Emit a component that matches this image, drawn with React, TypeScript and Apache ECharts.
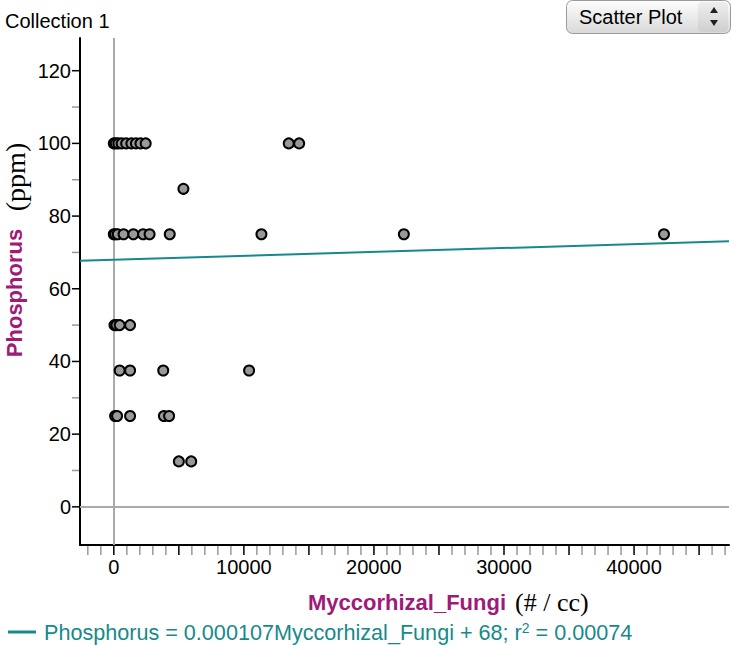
import React, { useEffect, useRef } from "react";
import * as echarts from "echarts";

// Data
const fungi100 = [0, 150, 350, 600, 950, 1350, 1700, 2050, 2450, 13450, 14250];
const fungi87 = [5350];
const fungi75 = [0, 100, 300, 750, 1500, 2250, 2750, 4300, 11350, 22300, 42300];
const fungi50 = [50, 200, 450, 1250];
const fungi37 = [450, 1250, 3800, 10400];
const fungi25 = [100, 250, 1250, 3850, 4250];
const fungi12 = [5000, 5950];
const phosphorusLevels = [100, 87.5, 75, 50, 37.5, 25, 12.5];

const slope = 0.000107;
const intercept = 68;

const xMin = -2600;
const xMax = 47300;
const yMin = -10.5;
const yMax = 129;

const xTickMinor = [-2000, -1000, 1000, 2000, 3000, 4000, 6000, 7000, 8000, 9000, 11000, 12000, 13000, 14000, 16000, 17000, 18000, 19000, 21000, 22000, 23000, 24000, 26000, 27000, 28000, 29000, 31000, 32000, 33000, 34000, 36000, 37000, 38000, 39000, 41000, 42000, 43000, 44000, 46000, 47000];
const xTickMajor = [0, 5000, 10000, 15000, 20000, 25000, 30000, 35000, 40000, 45000];
const yTickMinor = [10, 30, 50, 70, 90, 110];
const yTickMajor = [0, 20, 40, 60, 80, 100, 120];

const TEAL = "#17898b";
const MAGENTA = "#a01a78";
const SANS = "'Liberation Sans', Arial, sans-serif";
const SERIF = "'Liberation Serif', 'Times New Roman', serif";

export default function App() {
  const ref = useRef<HTMLDivElement>(null);
  useEffect(() => {
    if (!ref.current) return;
    const chart = echarts.init(ref.current, undefined, { renderer: "svg" });

    const rows = [fungi100, fungi87, fungi75, fungi50, fungi37, fungi25, fungi12];
    const points: number[][] = [];
    rows.forEach((row, i) => row.forEach((f) => points.push([f, phosphorusLevels[i]])));

    const xTicks = [
      ...xTickMinor.map((v) => [v, yMin, 0]),
      ...xTickMajor.map((v) => [v, yMin, 1]),
    ];
    const yTicks = [
      ...yTickMinor.map((v) => [xMin, v, 0]),
      ...yTickMajor.map((v) => [xMin, v, 1]),
    ];

    const option: any = {
      animation: false,
      grid: { left: 80, right: 0, top: 38, bottom: 100, containLabel: false },
      xAxis: {
        type: "value",
        min: xMin,
        max: xMax,
        splitNumber: 5,
        axisLine: { show: true, onZero: false, lineStyle: { color: "#000", width: 2 } },
        axisTick: { show: false },
        splitLine: { show: false },
        axisLabel: {
          margin: 12,
          fontSize: 20,
          fontFamily: SANS,
          color: "#000",
          formatter: (v: number) => (Math.abs(v % 10000) < 1e-6 ? String(Math.round(v)) : ""),
        },
      },
      yAxis: {
        type: "value",
        min: yMin,
        max: yMax,
        splitNumber: 7,
        axisLine: { show: true, onZero: false, lineStyle: { color: "#000", width: 2 } },
        axisTick: { show: false },
        splitLine: { show: false },
        axisLabel: {
          margin: 9,
          fontSize: 20,
          fontFamily: SANS,
          color: "#000",
          formatter: (v: number) => (Math.abs(v % 20) < 1e-6 ? String(Math.round(v)) : ""),
        },
      },
      series: [
        {
          type: "custom",
          silent: true,
          clip: false,
          data: xTicks,
          renderItem: (params: any, api: any) => {
            const p = api.coord([api.value(0), api.value(1)]);
            const major = api.value(2) === 1;
            return {
              type: "line",
              shape: { x1: p[0], y1: p[1] + 1, x2: p[0], y2: p[1] + 10 },
              style: { stroke: major ? "#000" : "#999", lineWidth: 1.5 },
            };
          },
          z: 1,
        },
        {
          type: "custom",
          silent: true,
          clip: false,
          data: yTicks,
          renderItem: (params: any, api: any) => {
            const p = api.coord([api.value(0), api.value(1)]);
            const major = api.value(2) === 1;
            return {
              type: "line",
              shape: { x1: p[0] - 8, y1: p[1], x2: p[0] - 1, y2: p[1] },
              style: { stroke: major ? "#000" : "#999", lineWidth: 1.5 },
            };
          },
          z: 1,
        },
        {
          type: "line",
          data: [
            [xMin, intercept + slope * xMin],
            [xMax, intercept + slope * xMax],
          ],
          showSymbol: false,
          symbol: "none",
          lineStyle: { color: TEAL, width: 2 },
          silent: true,
          z: 3,
        },
        {
          type: "scatter",
          data: points,
          symbolSize: 10,
          itemStyle: { color: "#999", borderColor: "#000", borderWidth: 2, opacity: 1 },
          z: 4,
          markLine: {
            silent: true,
            symbol: "none",
            label: { show: false },
            lineStyle: { color: "#aaa", width: 2, type: "solid" },
            data: [{ xAxis: 0 }, { yAxis: 0 }],
            z: 2,
          },
        },
      ],
      graphic: [
        {
          type: "text",
          left: 5,
          top: 11,
          style: { text: "Collection 1", fontSize: 20, fontFamily: SANS, fill: "#000" },
        },
        {
          type: "rect",
          shape: { x: 566.5, y: 0.5, width: 164, height: 33, r: 6 },
          style: {
            fill: new echarts.graphic.LinearGradient(0, 0, 0, 1, [
              { offset: 0, color: "#fdfdfd" },
              { offset: 1, color: "#d9d9d9" },
            ]),
            stroke: "#9a9a9a",
            lineWidth: 1,
          },
        },
        {
          type: "rect",
          shape: { x: 698, y: 2, width: 30, height: 30, r: 4 },
          style: {
            fill: new echarts.graphic.LinearGradient(0, 0, 0, 1, [
              { offset: 0, color: "#eeeeee" },
              { offset: 1, color: "#cfcfcf" },
            ]),
          },
        },
        {
          type: "polygon",
          shape: { points: [[710, 13], [718, 13], [714, 7]] },
          style: { fill: "#222" },
        },
        {
          type: "polygon",
          shape: { points: [[710, 20], [718, 20], [714, 26]] },
          style: { fill: "#222" },
        },
        {
          type: "text",
          x: 579,
          y: 17,
          style: {
            text: "Scatter Plot",
            fontSize: 20,
            fontFamily: SANS,
            fill: "#000",
            verticalAlign: "middle",
          },
        },
        {
          type: "text",
          x: 14,
          y: 293,
          rotation: Math.PI / 2,
          style: {
            text: "Phosphorus",
            fontSize: 22,
            fontWeight: "bold",
            fontFamily: SANS,
            fill: MAGENTA,
            align: "center",
            verticalAlign: "middle",
          },
        },
        {
          type: "text",
          x: 15,
          y: 177,
          rotation: Math.PI / 2,
          style: {
            text: "(ppm)",
            fontSize: 28,
            fontFamily: SERIF,
            fill: "#000",
            align: "center",
            verticalAlign: "middle",
          },
        },
        {
          type: "text",
          x: 308,
          y: 602,
          style: {
            text: "Myccorhizal_Fungi",
            fontSize: 22,
            fontWeight: "bold",
            fontFamily: SANS,
            fill: MAGENTA,
            verticalAlign: "middle",
          },
        },
        {
          type: "text",
          x: 515,
          y: 602,
          style: {
            text: "(# / cc)",
            fontSize: 26,
            fontFamily: SERIF,
            fill: "#000",
            verticalAlign: "middle",
          },
        },
        {
          type: "line",
          shape: { x1: 8, y1: 632, x2: 36, y2: 632 },
          style: { stroke: TEAL, lineWidth: 3 },
        },
        {
          type: "text",
          x: 44,
          y: 632,
          style: {
            text: "{a|Phosphorus = 0.000107Myccorhizal_Fungi + 68; r}{s|2}{a| = 0.00074}",
            verticalAlign: "middle",
            rich: {
              a: { fontSize: 21.6, fontFamily: SANS, fill: TEAL, color: TEAL, verticalAlign: "bottom" },
              s: { fontSize: 14, fontFamily: SANS, fill: TEAL, color: TEAL, verticalAlign: "top" },
            },
          },
        },
      ],
    };
    chart.setOption(option);
    return () => chart.dispose();
  }, []);
  return (
    <div
      ref={ref}
      style={{ position: "fixed", left: 0, top: 0, width: 732, height: 645, background: "#fff" }}
    />
  );
}
